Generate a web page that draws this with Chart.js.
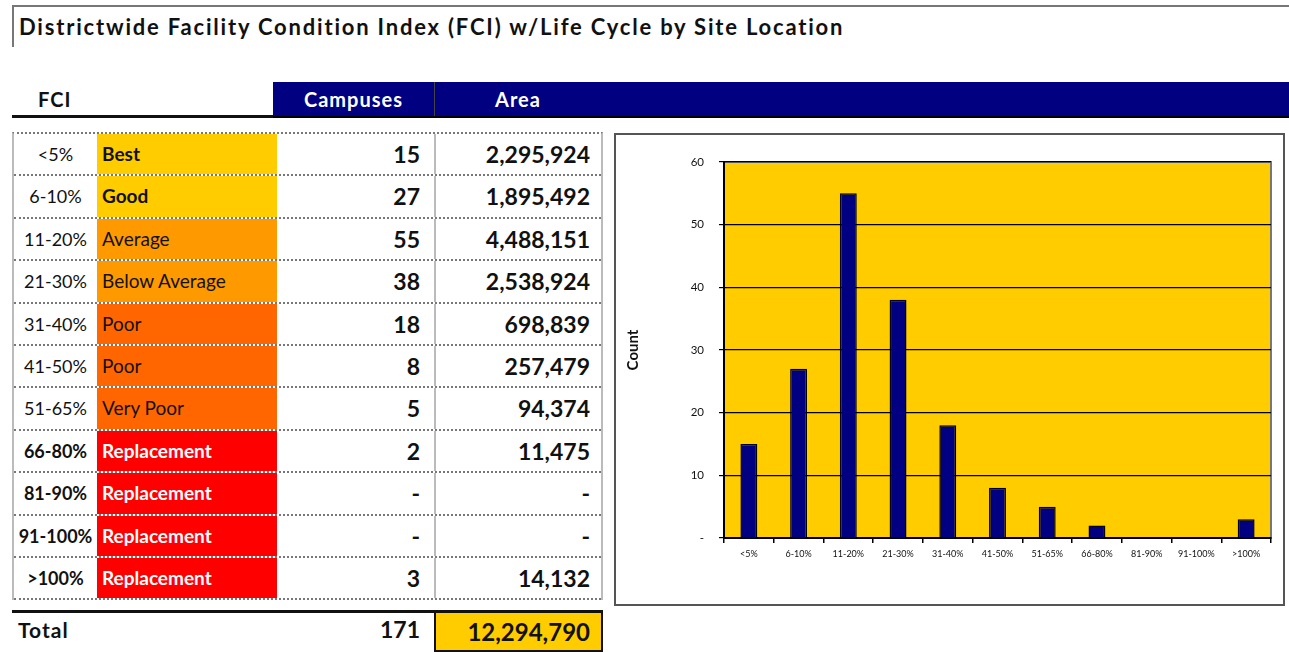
<!DOCTYPE html>
<html>
<head>
<meta charset="utf-8">
<script src="https://cdn.jsdelivr.net/npm/chart.js@4.4.0/dist/chart.umd.min.js"></script>
<style>
  html, body { margin: 0; padding: 0; background: #fff; }
  body { width: 1289px; height: 652px; position: relative; overflow: hidden; font-family: 'Lato', 'Open Sans', sans-serif; color: #111; }
  .titleBox { position: absolute; left: 12px; top: 5px; width: 1277px; height: 42px; border-top: 2px solid #777; border-left: 2px solid #777; box-sizing: border-box; }
  .titleBox span { position: absolute; left: 5px; top: 6px; font-size: 22px; font-weight: 700; white-space: nowrap; letter-spacing: 1.8px; }
  .hdrWhite { position: absolute; left: 12px; top: 82px; width: 261px; height: 36px; border-bottom: 3px solid #111; box-sizing: border-box; }
  .hdrWhite span { position: absolute; left: 26px; top: 5px; font-size: 20px; font-weight: 700; letter-spacing: 1px; }
  .hdrNavy { position: absolute; left: 273px; top: 82px; width: 1016px; height: 36px; background: #000080; border-bottom: 2px solid #000; box-sizing: border-box; }
  .hdrCell { position: absolute; top: 5px; font-size: 20px; font-weight: 700; color: #fff; text-align: center; letter-spacing: 1px; }
  .hdrDiv { position: absolute; left: 161px; top: 0; width: 1px; height: 34px; background: #444; }
  #rows { position: absolute; left: 12px; top: 132px; width: 591px; border-left: 2px solid #bbb; border-right: 2px solid #bbb; border-top: 2px dotted #777; box-sizing: border-box; }
  .row { position: relative; height: 42.4px; border-bottom: 2px dotted #777; box-sizing: border-box; }
  .row div { position: absolute; top: 0; height: 40.4px; line-height: 40px; white-space: nowrap; box-sizing: border-box; }
  .rng { left: 0; width: 83px; text-align: center; font-size: 18px; }
  .lbl { left: 83px; width: 180px; padding-left: 5px; font-size: 19px; }
  .cmp { left: 263px; width: 159px; text-align: right; padding-right: 14px; font-size: 23px; font-weight: 700; border-right: 2px solid #bbb; }
  .ara { left: 422px; width: 167px; text-align: right; padding-right: 13px; font-size: 23px; font-weight: 700; }
  .totLine { position: absolute; left: 12px; top: 610px; width: 591px; height: 3px; background: #111; }
  .totLbl { position: absolute; left: 18px; top: 617px; font-size: 21px; font-weight: 700; letter-spacing: 1px; }
  .totCmp { position: absolute; left: 275px; width: 145px; top: 615px; text-align: right; font-size: 23px; font-weight: 700; }
  .totArea { position: absolute; left: 434px; top: 611px; width: 169px; height: 41px; background: #FFCC00; border: 2px solid #111; box-sizing: border-box; text-align: right; padding-right: 11px; line-height: 37px; font-size: 24px; font-weight: 700; }
  .chartBox { position: absolute; left: 614px; top: 133px; width: 671px; height: 473px; border: 2px solid #555; box-sizing: border-box; }
  .chartBox .inner { position: absolute; left: 0; top: 0; width: 667px; height: 469px; }
</style>
</head>
<body>
<div class="titleBox"><span>Districtwide Facility Condition Index (FCI) w/Life Cycle by Site Location</span></div>
<div class="hdrWhite"><span>FCI</span></div>
<div class="hdrNavy">
  <div class="hdrCell" style="left:0;width:161px;">Campuses</div>
  <div class="hdrDiv"></div>
  <div class="hdrCell" style="left:161px;width:168px;">Area</div>
</div>
<div id="rows"></div>
<div class="totLine"></div>
<div class="totLbl">Total</div>
<div class="totCmp" id="totCmp"></div>
<div class="totArea" id="totArea"></div>
<div class="chartBox"><div class="inner"><canvas id="fciChart"></canvas></div></div>

<script>
// FCI bands (also used as chart categories)
const fciRanges = ['<5%', '6-10%', '11-20%', '21-30%', '31-40%', '41-50%', '51-65%', '66-80%', '81-90%', '91-100%', '>100%'];
const conditionLabels = ['Best', 'Good', 'Average', 'Below Average', 'Poor', 'Poor', 'Very Poor', 'Replacement', 'Replacement', 'Replacement', 'Replacement'];
const campusCounts = [15, 27, 55, 38, 18, 8, 5, 2, 0, 0, 3];
const areaValues = [2295924, 1895492, 4488151, 2538924, 698839, 257479, 94374, 11475, 0, 0, 14132];
const yTicks = [0, 10, 20, 30, 40, 50, 60];

// Cell colours per condition
const conditionStyle = {
  'Best': { bg: '#FFCC00', fg: '#111', bold: true },
  'Good': { bg: '#FFCC00', fg: '#111', bold: true },
  'Average': { bg: '#FF9900', fg: '#111', bold: false },
  'Below Average': { bg: '#FF9900', fg: '#111', bold: false },
  'Poor': { bg: '#FF6600', fg: '#111', bold: false },
  'Very Poor': { bg: '#FF6600', fg: '#111', bold: false },
  'Replacement': { bg: '#FF0000', fg: '#fff', bold: true }
};

function fmt(n) {
  return n === 0 ? '-' : n.toLocaleString('en-US');
}

// Build table rows
const rowsEl = document.getElementById('rows');
fciRanges.forEach((range, i) => {
  const cond = conditionLabels[i];
  const st = conditionStyle[cond];
  const row = document.createElement('div');
  row.className = 'row';
  const boldRange = cond === 'Replacement' ? 'font-weight:700;' : '';
  row.innerHTML = `
    <div class="rng" style="${boldRange}">${range.replace('<', '&lt;').replace('>', '&gt;')}</div>
    <div class="lbl" style="background:${st.bg};color:${st.fg};font-weight:${st.bold ? 700 : 400};">${cond}</div>
    <div class="cmp">${fmt(campusCounts[i])}</div>
    <div class="ara">${fmt(areaValues[i])}</div>
  `;
  rowsEl.appendChild(row);
});

document.getElementById('totCmp').textContent = campusCounts.reduce((s, v) => s + v, 0);
document.getElementById('totArea').textContent = areaValues.reduce((s, v) => s + v, 0).toLocaleString('en-US');

// Plot-area background plugin
const plotBackground = {
  id: 'plotBackground',
  beforeDraw(chart) {
    const { ctx, chartArea } = chart;
    ctx.save();
    ctx.fillStyle = '#FFCC00';
    ctx.fillRect(chartArea.left, chartArea.top, chartArea.right - chartArea.left, chartArea.bottom - chartArea.top);
    ctx.strokeStyle = '#777';
    ctx.lineWidth = 2;
    ctx.strokeRect(chartArea.left, chartArea.top, chartArea.right - chartArea.left, chartArea.bottom - chartArea.top);
    ctx.restore();
  }
};

Chart.defaults.font.family = "'Lato', 'Open Sans', sans-serif";
Chart.defaults.color = '#111';

const ctx = document.getElementById('fciChart').getContext('2d');
new Chart(ctx, {
  type: 'bar',
  data: {
    labels: fciRanges,
    datasets: [{
      label: 'Count',
      data: campusCounts,
      backgroundColor: '#000080',
      borderColor: '#000',
      borderWidth: 1.5,
      barPercentage: 0.34,
      categoryPercentage: 1
    }]
  },
  options: {
    responsive: true,
    maintainAspectRatio: false,
    animation: false,
    layout: { padding: { top: 27, right: 12, bottom: 0, left: 0 } },
    plugins: {
      legend: { display: false },
      tooltip: { enabled: false }
    },
    scales: {
      x: {
        afterFit: s => { s.height = 66; },
        grid: { offset: true, drawOnChartArea: false, drawTicks: true, tickLength: 5, color: '#000', lineWidth: 1.5 },
        border: { display: true, color: '#000', width: 2 },
        ticks: { font: { size: 9 }, padding: 6, maxRotation: 0, autoSkip: false, color: '#111' }
      },
      y: {
        min: 0,
        max: 60,
        afterFit: s => { s.width = 108; },
        afterBuildTicks: s => { s.ticks = yTicks.map(v => ({ value: v })); },
        grid: { color: '#000', lineWidth: 1.2, tickLength: 5 },
        border: { display: true, color: '#000', width: 2 },
        ticks: {
          font: { size: 11.5 },
          padding: 15,
          color: '#111',
          callback: v => v === 0 ? '-' : v
        },
        title: { display: true, text: 'Count', font: { size: 15, weight: 'bold' }, color: '#111', padding: { top: 8, bottom: 0 } }
      }
    }
  },
  plugins: [plotBackground]
});
</script>
</body>
</html>
